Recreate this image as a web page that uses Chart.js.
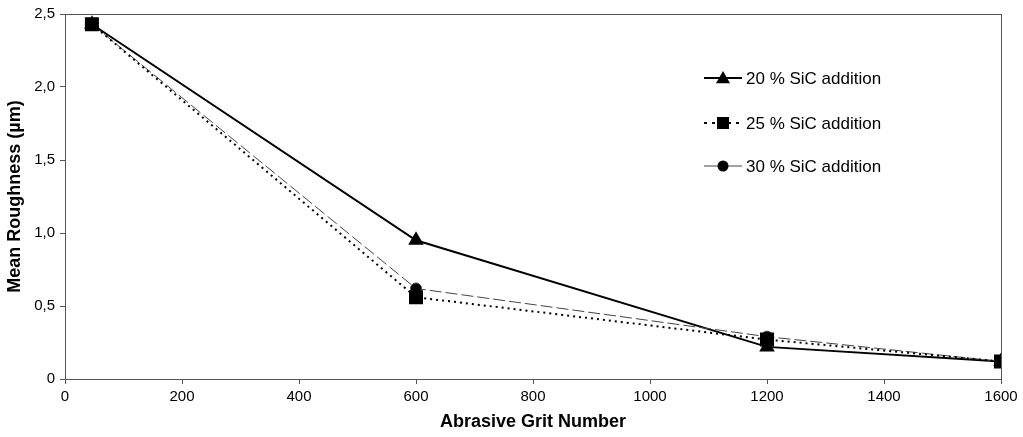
<!DOCTYPE html>
<html>
<head>
<meta charset="utf-8">
<script src="https://cdn.jsdelivr.net/npm/chart.js@4/dist/chart.umd.min.js"></script>
<style>
  html, body { margin: 0; padding: 0; background: #fff; }
  #diagram { width: 1023px; height: 437px; }
</style>
</head>
<body>
<div id="diagram"><canvas id="chart"></canvas></div>
<script>
// values
const gritNumbers = [46, 600, 1200, 1600];
const sic20 = [2.43, 0.95, 0.22, 0.12];
const sic25 = [2.43, 0.56, 0.27, 0.12];
const sic30 = [2.43, 0.62, 0.29, 0.12];
const seriesLabels = ['20 % SiC addition', '25 % SiC addition', '30 % SiC addition'];
const yTickLabels = { 0: '0', 0.5: '0,5', 1: '1,0', 1.5: '1,5', 2: '2,0', 2.5: '2,5' };

const toPoints = (ys) => gritNumbers.map((x, i) => ({ x: x, y: ys[i] }));

// box around the plot area + legend placed inside it, like the original
const frameAndLegend = {
    id: 'frameAndLegend',
    afterDraw(chart) {
        const ctx = chart.ctx;
        const a = chart.chartArea;
        ctx.save();
        ctx.strokeStyle = '#555';
        ctx.lineWidth = 1;
        ctx.strokeRect(Math.round(a.left) + 0.5, Math.round(a.top) + 0.5,
            Math.round(a.right - a.left), Math.round(a.bottom - a.top));

        const rows = [78, 123, 166];
        chart.data.datasets.forEach((ds, i) => {
            const y = rows[i];
            ctx.strokeStyle = ds.borderColor;
            ctx.lineWidth = ds.borderWidth;
            ctx.setLineDash(i === 1 ? [3, 5] : []);
            ctx.beginPath();
            ctx.moveTo(704, y);
            ctx.lineTo(742, y);
            ctx.stroke();
            ctx.setLineDash([]);
            ctx.fillStyle = '#000';
            const cx = 723, r = ds.pointRadius;
            ctx.beginPath();
            if (ds.pointStyle === 'triangle') {
                ctx.moveTo(cx, y - r);
                ctx.lineTo(cx + r, y + r * 0.75);
                ctx.lineTo(cx - r, y + r * 0.75);
                ctx.closePath();
            } else if (ds.pointStyle === 'rect') {
                ctx.rect(cx - 6, y - 6, 12, 12);
            } else {
                ctx.arc(cx, y, r, 0, Math.PI * 2);
            }
            ctx.fill();
            ctx.font = '17px "Liberation Sans", Arial, sans-serif';
            ctx.textBaseline = 'middle';
            ctx.fillText(ds.label, 746, y + 1);
        });
        ctx.restore();
    }
};

const tickFont = { family: '"Liberation Sans", Arial, sans-serif', size: 15 };
const titleFont = { family: '"Liberation Sans", Arial, sans-serif', size: 18, weight: 'bold' };

new Chart(document.getElementById('chart').getContext('2d'), {
    type: 'line',
    data: {
        datasets: [
            {
                label: seriesLabels[0],
                data: toPoints(sic20),
                borderColor: '#000',
                backgroundColor: '#000',
                borderWidth: 2,
                pointStyle: 'triangle',
                pointRadius: 7,
                order: 2,
            },
            {
                label: seriesLabels[1],
                data: toPoints(sic25),
                borderColor: '#000',
                backgroundColor: '#000',
                borderWidth: 2,
                borderDash: [2, 4],
                pointStyle: 'rect',
                pointRadius: 8.5,
                order: 0,
            },
            {
                label: seriesLabels[2],
                data: toPoints(sic30),
                borderColor: '#444',
                backgroundColor: '#000',
                borderWidth: 1,
                borderDash: [12, 4],
                pointStyle: 'circle',
                pointRadius: 5.5,
                order: 1,
            },
        ],
    },
    options: {
        responsive: true,
        maintainAspectRatio: false,
        animation: false,
        layout: { padding: { left: 0, right: 22, top: 14, bottom: 0 } },
        plugins: {
            legend: { display: false },
            tooltip: { enabled: false },
        },
        elements: { line: { tension: 0 }, point: { borderWidth: 0 } },
        scales: {
            x: {
                type: 'linear',
                min: 0,
                max: 1600,
                ticks: {
                    stepSize: 200, color: '#000', font: tickFont, padding: 4, maxRotation: 0,
                    callback: (v) => String(v),
                },
                grid: { display: true, drawOnChartArea: false, tickLength: 5, color: '#555' },
                border: { color: '#555' },
                title: { display: true, text: 'Abrasive Grit Number', color: '#000', font: titleFont, padding: { top: 0 } },
                afterFit(scale) { scale.height = 58; },
            },
            y: {
                min: 0,
                max: 2.5,
                ticks: {
                    stepSize: 0.5,
                    color: '#000',
                    font: tickFont,
                    padding: 5,
                    callback: (v) => yTickLabels[v] !== undefined ? yTickLabels[v] : '',
                },
                grid: { display: true, drawOnChartArea: false, tickLength: 5, color: '#555' },
                border: { color: '#555' },
                title: { display: true, text: 'Mean Roughness (µm)', color: '#000', font: titleFont, padding: { bottom: 2 } },
                afterFit(scale) { scale.width = 65; },
            },
        },
    },
    plugins: [frameAndLegend],
});
</script>
</body>
</html>
